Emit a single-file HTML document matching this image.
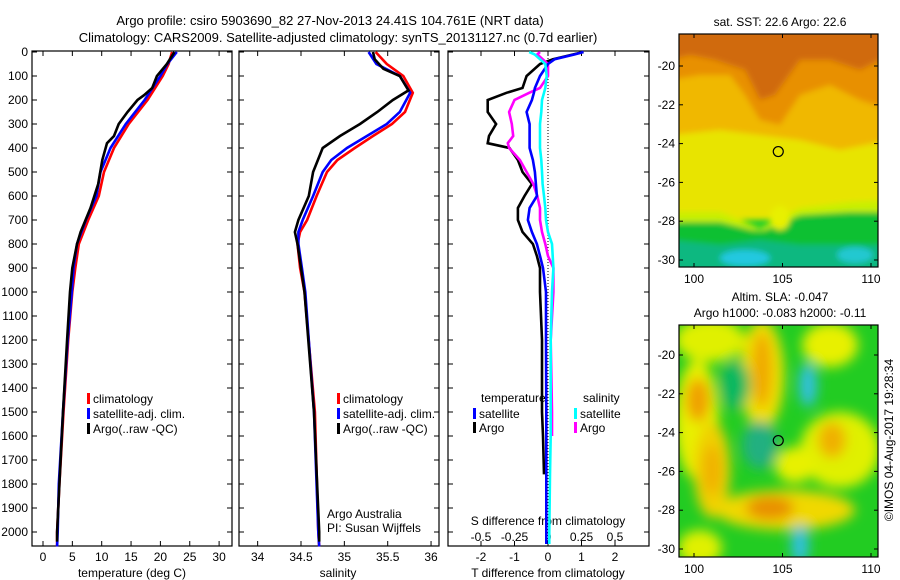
<!DOCTYPE html>
<html><head><meta charset="utf-8"><style>
body{margin:0;background:#fff;}
svg{display:block;font-family:"Liberation Sans",sans-serif;}
text{font-size:12px;fill:#000;}
</style></head><body>
<svg id="fig" width="900" height="580" viewBox="0 0 900 580">
<defs>
<filter id="bl" x="-20%" y="-20%" width="140%" height="140%"><feGaussianBlur stdDeviation="6"/></filter>
<filter id="bl2" x="-20%" y="-20%" width="140%" height="140%"><feGaussianBlur stdDeviation="3"/></filter>
<clipPath id="c1"><rect x="679" y="34" width="199" height="233"/></clipPath>
<clipPath id="c2"><rect x="679" y="325" width="199" height="232"/></clipPath>
</defs>
<text x="330" y="25" text-anchor="middle" style="font-size:13px">Argo profile: csiro 5903690_82 27-Nov-2013 24.41S 104.761E (NRT data)</text>
<text x="338" y="42" text-anchor="middle" style="font-size:13px">Climatology: CARS2009. Satellite-adjusted climatology: synTS_20131127.nc (0.7d earlier)</text>

<g clip-path="url(#c2)">
<rect x="679" y="325" width="199" height="232" fill="#22cc22"/>
<g filter="url(#bl)">
<ellipse cx="697" cy="420" rx="22" ry="60" fill="#e8f000"/>
<ellipse cx="698" cy="400" rx="12" ry="22" fill="#f0a000"/>
<ellipse cx="712" cy="470" rx="18" ry="48" fill="#f0d000"/>
<ellipse cx="712" cy="470" rx="9" ry="25" fill="#f0b000"/>
<ellipse cx="710" cy="340" rx="35" ry="22" fill="#e0f000"/>
<ellipse cx="762" cy="375" rx="22" ry="55" fill="#f0e000"/>
<ellipse cx="762" cy="370" rx="10" ry="38" fill="#f0a800"/>
<ellipse cx="830" cy="345" rx="28" ry="22" fill="#e8f000"/>
<ellipse cx="840" cy="450" rx="40" ry="38" fill="#e0f000"/>
<ellipse cx="832" cy="440" rx="14" ry="18" fill="#f0b000"/>
<ellipse cx="785" cy="510" rx="70" ry="20" fill="#f0d800"/>
<ellipse cx="770" cy="508" rx="24" ry="12" fill="#e89000"/>
<ellipse cx="795" cy="465" rx="20" ry="18" fill="#e8f000"/>
<ellipse cx="700" cy="548" rx="22" ry="18" fill="#e0f000"/>
<ellipse cx="808" cy="385" rx="9" ry="22" fill="#30c0e0"/>
<ellipse cx="800" cy="545" rx="9" ry="20" fill="#30c0e0"/>
<ellipse cx="760" cy="445" rx="18" ry="24" fill="#20b080"/>
<ellipse cx="735" cy="385" rx="15" ry="25" fill="#10b860"/>
</g>
</g>
<g clip-path="url(#c1)">
<rect x="679" y="34" width="199" height="233" fill="#10cc30"/>
<g filter="url(#bl2)">
<rect x="670" y="20" width="220" height="200" fill="#e8e400"/>
<path d="M670 20 L890 20 L890 140 L840 150 L800 140 L760 135 L720 130 L670 135 Z" fill="#f0b800"/>
<path d="M670 20 L890 20 L890 110 L860 100 L830 85 L800 95 L780 125 L760 120 L745 95 L730 75 L700 75 L670 80 Z" fill="#e89000"/>
<path d="M670 30 L890 30 L890 55 L860 70 L830 60 L800 60 L775 95 L760 100 L745 70 L715 60 L690 55 L670 60 Z" fill="#d06a08"/>
<path d="M670 212 L720 212 L760 228 L800 208 L850 202 L890 200 L890 230 L670 230 Z" fill="#c8f000"/>
<path d="M670 222 L720 222 L760 232 L800 215 L850 212 L890 212 L890 280 L670 280 Z" fill="#10c030"/>
<path d="M670 240 L720 245 L760 240 L800 245 L890 245 L890 280 L670 280 Z" fill="#10b880"/>
<ellipse cx="745" cy="258" rx="25" ry="8" fill="#20c8e0"/>
<ellipse cx="855" cy="255" rx="18" ry="8" fill="#20c8d0"/>
<ellipse cx="780" cy="218" rx="10" ry="12" fill="#e8f000"/>
</g>
</g>
</svg>
<script>
// ---- data ----
const depthT=[0,50,100,200,300,400,500,600,700,800,900,1000,1200,1500,1800,2000,2060];
const tempClim=[22.0,21.4,20.4,17.8,14.6,12.1,10.4,9.5,7.7,6.1,5.5,5.0,4.3,3.5,2.8,2.4,2.4];
const tempSat=[22.8,21.2,20.0,17.3,14.1,11.5,9.8,9.1,7.3,5.8,5.2,4.9,4.2,3.4,2.7,2.5,2.4];
const depthArgoT=[0,50,100,150,180,200,250,300,350,380,450,550,650,750,800,900,1000,1200,1500,1800,2000,2040];
const tempArgo=[22.4,21.1,19.4,18.6,17.2,16.1,14.4,12.9,12.1,10.9,10.1,9.4,8.1,6.4,5.8,5.0,4.6,4.1,3.4,2.8,2.4,2.4];
const depthS=[0,50,100,170,250,300,350,400,450,500,600,700,750,800,900,1000,1500,2000,2060];
const salClim=[35.36,35.49,35.68,35.79,35.70,35.55,35.33,35.12,34.92,34.80,34.68,34.57,34.49,34.46,34.49,34.54,34.66,34.70,34.71];
const salSat=[35.28,35.37,35.64,35.76,35.64,35.49,35.26,35.03,34.85,34.75,34.64,34.52,34.47,34.47,34.51,34.55,34.65,34.70,34.71];
const depthArgoS=[0,30,70,100,160,200,250,300,350,400,500,600,700,750,800,900,1000,1500,2000,2040];
const salArgo=[35.33,35.35,35.45,35.64,35.74,35.56,35.38,35.18,34.95,34.75,34.64,34.59,34.47,34.43,34.46,34.50,34.54,34.65,34.71,34.71];
const depthD=[0,10,30,50,100,150,170,200,250,300,350,380,400,450,500,550,600,650,700,750,800,850,900,1000,1200,1500,1600,1760,2000,2050];
const dTArgo=[1.06,0.76,0.15,-0.24,-0.64,-0.76,-1.24,-1.8,-1.8,-1.55,-1.76,-1.8,-1.15,-0.9,-0.76,-0.48,-0.7,-0.9,-0.9,-0.76,-0.45,-0.33,-0.24,-0.24,-0.18,-0.18,-0.15,-0.12,null,null];
const dTSat=[1.06,0.8,0.2,0.0,-0.24,-0.39,-0.42,-0.48,-0.64,-0.55,-0.55,-0.55,-0.55,-0.45,-0.39,-0.36,-0.33,-0.55,-0.6,-0.48,-0.33,-0.24,-0.15,-0.06,-0.06,-0.05,-0.05,-0.05,-0.05,-0.05];
const dSArgo=[-0.06,-0.08,-0.04,0.0,0.0,-0.06,-0.14,-0.25,-0.29,-0.27,-0.26,-0.30,-0.29,-0.21,-0.16,-0.11,-0.08,-0.06,-0.06,-0.045,-0.02,0.0,0.04,0.04,0.02,0.03,0.03,null,null,null];
const dSSat=[-0.14,-0.10,-0.06,-0.02,-0.01,-0.02,-0.03,-0.045,-0.05,-0.06,-0.06,-0.06,-0.06,-0.05,-0.045,-0.04,-0.03,-0.02,-0.015,0.0,0.03,0.035,0.04,0.03,0.02,0.02,0.02,0.015,0.01,0.01];
const depthTicks=[0,100,200,300,400,500,600,700,800,900,1000,1100,1200,1300,1400,1500,1600,1700,1800,1900,2000];
const tTicks=[0,5,10,15,20,25,30];
const sTicks=[34,34.5,35,35.5,36];
const dTTicks=[-2,-1,0,1,2];
const dSTicks=[-0.5,-0.25,0,0.25,0.5];
const dSTickLabels=["-0.5","-0.25","0","0.25","0.5"];
const latTicks=[-20,-22,-24,-26,-28,-30];
const lonTicks=[100,105,110];
const argoLon=104.761, argoLat=-24.41;

// ---- axes ----
const y=d=>52+d*0.24;
const xT=v=>43+v*5.87;
const xS=v=>301+(v-34.5)*86.7;
const xDT=v=>548+v*33.5;
const xDS=v=>548+v*134;
const BOT=546;
const svg=document.getElementById('fig');
const NS='http://www.w3.org/2000/svg';
function mk(tag,attrs,parent){const e=document.createElementNS(NS,tag);for(const k in attrs)e.setAttribute(k,attrs[k]);(parent||svg).appendChild(e);return e;}
function txt(x,yy,s,anchor,parent){const t=mk('text',{x:x,y:yy,'text-anchor':anchor||'middle'},parent);t.textContent=s;return t;}
function line(xs,ds,fx,color,name){
  let pts=[];for(let i=0;i<ds.length;i++){if(xs[i]===null||xs[i]===undefined)continue;pts.push(fx(xs[i]).toFixed(1)+','+y(ds[i]).toFixed(1));}
  const p=mk('polyline',{points:pts.join(' '),fill:'none',stroke:color,'stroke-width':2.6,'stroke-linejoin':'miter'});
  
  
}
const panels=[[32,232],[239,439],[448,649]];
panels.forEach((p,i)=>{
  const r=mk('rect',{x:p[0],y:51,width:p[1]-p[0],height:BOT-51,fill:'none',stroke:'#000','stroke-width':1.2});
  
  
  depthTicks.forEach(d=>{mk('line',{x1:p[0],x2:p[0]+5,y1:y(d),y2:y(d),stroke:'#000'});mk('line',{x1:p[1]-5,x2:p[1],y1:y(d),y2:y(d),stroke:'#000'});});
});
depthTicks.forEach(d=>{const t=txt(28,y(d)+4,String(d),'end');});
function xticks(ticks,fx,ly){ticks.forEach(v=>{const X=fx(v);mk('line',{x1:X,x2:X,y1:BOT,y2:BOT-5,stroke:'#000'});mk('line',{x1:X,x2:X,y1:51,y2:56,stroke:'#000'});const t=txt(X,ly,String(v));});}
xticks(tTicks,xT,561);
xticks(sTicks,xS,561);
xticks(dTTicks,xDT,561);
dSTicks.forEach((v,i)=>{const t=txt(xDS(v),541,dSTickLabels[i]);});
let t;
t=txt(132,577,'temperature (deg C)');
t=txt(338,577,'salinity');
t=txt(548,577,'T difference from climatology');
t=txt(548,525,'S difference from climatology');
t=txt(327,518,'Argo Australia','start');
t=txt(327,532,'PI: Susan Wijffels','start');
const z=mk('line',{x1:548,x2:548,y1:52,y2:BOT,stroke:'#000','stroke-dasharray':'1,2'});


line(tempClim,depthT,xT,'#ff0000','temp-climatology');
line(tempSat,depthT,xT,'#0000ff','temp-satellite');
line(tempArgo,depthArgoT,xT,'#000','temp-argo');
line(salClim,depthS,xS,'#ff0000','sal-climatology');
line(salSat,depthS,xS,'#0000ff','sal-satellite');
line(salArgo,depthArgoS,xS,'#000','sal-argo');
line(dTArgo,depthD,xDT,'#000','t-diff-argo');
line(dSArgo,depthD,xDS,'#ff00ff','s-diff-argo');
line(dTSat,depthD,xDT,'#0000ff','t-diff-satellite');
line(dSSat,depthD,xDS,'#00ffff','s-diff-satellite');

function leg(x,yy,color,label,name){
  const g=mk('g',{});
  mk('rect',{x:x,y:yy-10,width:3,height:11,fill:color},g);txt(x+6,yy,label,'start',g);
}
leg(87,403,'#ff0000','climatology','legend-climatology');
leg(87,418,'#0000ff','satellite-adj. clim.','legend-satellite-adj');
leg(87,433,'#000','Argo(..raw -QC)','legend-argo');
leg(337,403,'#ff0000','climatology','legend-sal-climatology');
leg(337,418,'#0000ff','satellite-adj. clim.','legend-sal-satellite-adj');
leg(337,433,'#000','Argo(..raw -QC)','legend-sal-argo');
t=txt(481,402,'temperature','start');
t=txt(583,402,'salinity','start');
leg(473,418,'#0000ff','satellite','legend-t-satellite');
leg(473,432,'#000','Argo','legend-t-argo');
leg(574,418,'#00ffff','satellite','legend-s-satellite');
leg(574,432,'#ff00ff','Argo','legend-s-argo');

function mapAxes(top,bottom,lat20,name,titles){
  const r=mk('rect',{x:679,y:top,width:199,height:bottom-top,fill:'none',stroke:'#000','stroke-width':1.2});
  
  const ly=v=>lat20+(-20-v)*19.4;
  const lx=v=>694+(v-100)*17.7;
  latTicks.forEach(v=>{mk('line',{x1:874,x2:878,y1:ly(v),y2:ly(v),stroke:'#000'});mk('line',{x1:679,x2:683,y1:ly(v),y2:ly(v),stroke:'#000'});const tt=txt(675,ly(v)+4,String(v),'end');});
  lonTicks.forEach(v=>{mk('line',{x1:lx(v),x2:lx(v),y1:bottom,y2:bottom-4,stroke:'#000'});mk('line',{x1:lx(v),x2:lx(v),y1:top,y2:top+4,stroke:'#000'});const tt=txt(lx(v),bottom+16,String(v));});
  const c=mk('circle',{cx:lx(argoLon),cy:ly(argoLat),r:5,fill:'none',stroke:'#000','stroke-width':1.2});
  
  titles.forEach((s,i)=>{const tt=txt(780,top-18+i*16-(titles.length-1)*16+10,s);});
}
mapAxes(34,267,66,'sst-map',['sat. SST: 22.6 Argo: 22.6']);
mapAxes(325,557,355,'sla-map',['Altim. SLA: -0.047','Argo h1000: -0.083 h2000: -0.11']);
t=txt(0,0,'©IMOS 04-Aug-2017 19:28:34');t.setAttribute('transform','translate(893,440) rotate(-90)');


</script>
</body></html>
